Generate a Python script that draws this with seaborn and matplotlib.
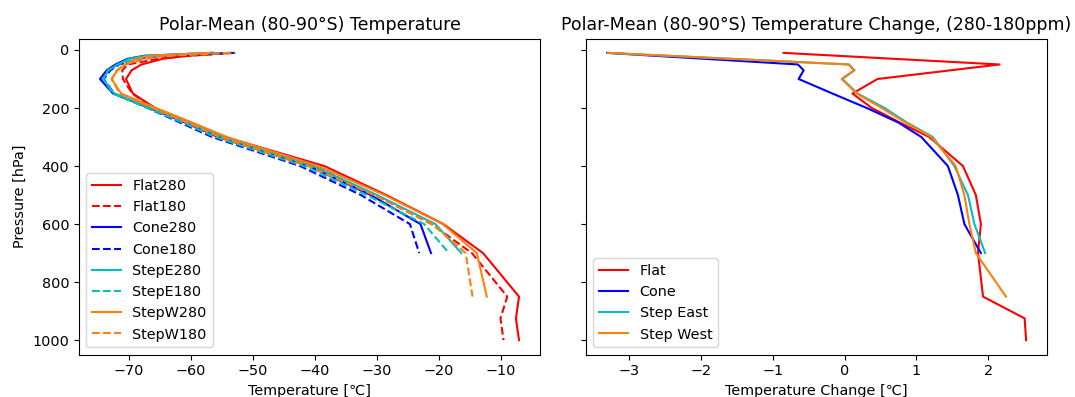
import numpy as np
import pandas as pd
import matplotlib
matplotlib.use("Agg")
import matplotlib.pyplot as plt
import seaborn as sns

# Pressure levels [hPa]
pressure = [10, 20, 30, 50, 70, 100, 150, 200, 250, 300, 400, 500, 600, 700, 850, 925, 1000]

# Polar-mean temperature [degC]
flat280 = [-53.7, -60.5, -64.5, -68.0, -69.6, -70.5, -69.4, -65.8, -60.0, -54.5, -38.5, -28.5, -19.3, -12.9, -7.1, -7.6, -7.1]
flat180 = [-52.9, -60.4, -65.2, -70.2, -71.1, -71.0, -69.5, -66.2, -60.8, -55.7, -40.2, -30.3, -21.2, -14.7, -9.0, -10.1, -9.6]
cone280 = [-56.5, -67.5, -70.2, -72.2, -73.6, -74.7, -72.6, -66.7, -61.0, -55.5, -41.0, -31.0, -23.0, -21.3]
cone180 = [-53.2, -64.9, -68.2, -71.6, -73.0, -74.1, -72.4, -67.0, -61.8, -56.6, -42.4, -32.6, -24.7, -23.2]
stepe280 = [-56.8, -67.3, -70.0, -71.8, -73.3, -74.2, -72.4, -66.4, -60.6, -54.9, -40.3, -30.0, -20.6, -16.4]
stepe180 = [-53.5, -64.8, -68.4, -71.9, -73.4, -74.2, -72.6, -67.0, -61.4, -56.1, -41.8, -31.7, -22.4, -18.4]
stepw280 = [-57.0, -66.5, -68.8, -70.6, -71.9, -72.8, -71.3, -65.7, -59.9, -54.2, -39.5, -28.8, -19.4, -13.9, -12.3]
stepw180 = [-53.7, -64.0, -67.2, -70.7, -72.0, -72.8, -71.5, -66.2, -60.7, -55.4, -41.1, -30.5, -21.1, -15.7, -14.6]

# Temperature change (280 - 180 ppm) [degC]
flat_d = [-0.85, -0.10, 0.65, 2.16, 1.48, 0.46, 0.11, 0.38, 0.77, 1.18, 1.65, 1.83, 1.90, 1.86, 1.93, 2.51, 2.53]
cone_d = [-3.31, -2.65, -1.98, -0.65, -0.57, -0.64, -0.17, 0.31, 0.75, 1.07, 1.44, 1.58, 1.67, 1.90]
stepe_d = [-3.30, -2.46, -1.62, 0.06, 0.14, -0.03, 0.18, 0.56, 0.87, 1.23, 1.53, 1.72, 1.81, 1.96]
stepw_d = [-3.30, -2.46, -1.62, 0.06, 0.13, -0.04, 0.17, 0.52, 0.85, 1.21, 1.55, 1.67, 1.74, 1.83, 2.25]

RED, BLUE, CYAN, ORANGE = "#ff0000", "#0000ff", "#00bfbf", "#ff7f0e"

left_series = [
    ("Flat280", flat280, RED, "-"), ("Flat180", flat180, RED, "--"),
    ("Cone280", cone280, BLUE, "-"), ("Cone180", cone180, BLUE, "--"),
    ("StepE280", stepe280, CYAN, "-"), ("StepE180", stepe180, CYAN, "--"),
    ("StepW280", stepw280, ORANGE, "-"), ("StepW180", stepw180, ORANGE, "--"),
]
right_series = [
    ("Flat", flat_d, RED), ("Cone", cone_d, BLUE),
    ("Step East", stepe_d, CYAN), ("Step West", stepw_d, ORANGE),
]

plt.rcParams["font.size"] = 10.4

fig, (ax1, ax2) = plt.subplots(1, 2, figsize=(10.75, 3.97), dpi=100, sharey=True)
fig.subplots_adjust(left=0.0735, right=0.974, bottom=0.107, top=0.903, wspace=0.10)

for name, vals, col, ls in left_series:
    df = pd.DataFrame({"T": vals, "p": pressure[:len(vals)]})
    sns.lineplot(data=df, x="T", y="p", sort=False, estimator=None, ax=ax1,
                 color=col, linestyle=ls, linewidth=1.5, label=name)

for name, vals, col in right_series:
    df = pd.DataFrame({"T": vals, "p": pressure[:len(vals)]})
    sns.lineplot(data=df, x="T", y="p", sort=False, estimator=None, ax=ax2,
                 color=col, linewidth=1.5, label=name)

ax1.invert_yaxis()
ax1.set_yticks([0, 200, 400, 600, 800, 1000])
ax1.set_xticks([-70, -60, -50, -40, -30, -20, -10])
ax2.set_xticks([-3, -2, -1, 0, 1, 2])

ax1.set_title("Polar-Mean (80-90°S) Temperature")
ax2.set_title("Polar-Mean (80-90°S) Temperature Change, (280-180ppm)")
ax1.set_xlabel("Temperature [℃]")
ax2.set_xlabel("Temperature Change [℃]")
ax1.set_ylabel("Pressure [hPa]")
ax2.set_ylabel("")
ax2.tick_params(labelleft=False)

ax1.legend(loc="lower left")
ax2.legend(loc="lower left")

fig.savefig("out.png", dpi=100)
